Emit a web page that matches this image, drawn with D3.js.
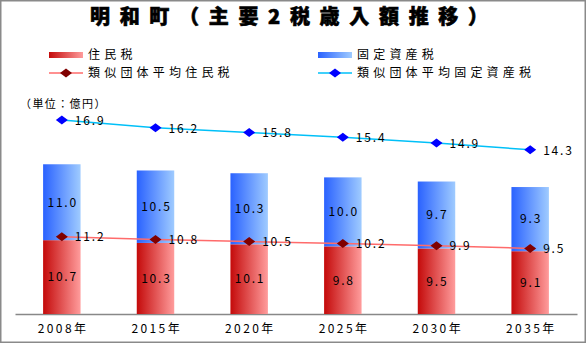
<!DOCTYPE html>
<html><head><meta charset="utf-8">
<script src="https://cdn.jsdelivr.net/npm/d3@7"></script>
<style>
html,body{margin:0;padding:0;background:#fff;}
svg{display:block;font-family:"Noto Sans CJK JP","Noto Sans",sans-serif;}
</style></head>
<body>
<script>
const years = ['2008年','2015年','2020年','2025年','2030年','2035年'];
const residentTax = [10.7,10.3,10.1,9.8,9.5,9.1];
const propertyTax = [11.0,10.5,10.3,10.0,9.7,9.3];
const avgResident = [11.2,10.8,10.5,10.2,9.9,9.5];
const avgProperty = [16.9,16.2,15.8,15.4,14.9,14.3];
const seriesNames = ['住民税','固定資産税','類似団体平均住民税','類似団体平均固定資産税'];
const titleText = '明和町（主要2税歳入額推移）';
const unitText = '（単位：億円）';

const W = 587, H = 344;
const svg = d3.select('body').append('svg').attr('width', W).attr('height', H);
const defs = svg.append('defs');
function grad(id, c0, c1){
  const g = defs.append('linearGradient').attr('id', id).attr('x1','0').attr('x2','1').attr('y1','0').attr('y2','0');
  g.append('stop').attr('offset','0').attr('stop-color', c0);
  g.append('stop').attr('offset','1').attr('stop-color', c1);
}
grad('gRed', '#c40a0a', '#ff9c9c');
grad('gBlue', '#2a62ff', '#9fcbff');

svg.append('rect').attr('x',0.75).attr('y',0.75).attr('width',584.5).attr('height',341.5)
  .attr('fill','#fff').attr('stroke','#8a8a8a').attr('stroke-width',1.5);

const x = d3.scaleBand().domain(years).range([15, 577]).paddingInner(0.6).paddingOuter(0.3);
const y = d3.scaleLinear().domain([0, 30]).range([314, 314 - 30*6.9]);

// title
svg.append('text').attr('x', 90).attr('y', 24)
  .attr('textLength', 398).attr('lengthAdjust','spacing')
  .attr('font-size', 20).attr('font-weight', 900).attr('fill','#000')
  .attr('stroke','#000').attr('stroke-width',0.6)
  .text(titleText);

// legend
const leg = svg.append('g').attr('font-size', 12).attr('fill','#000');
const legItems = [
  {x:49, y:55, type:'bar', fill:'url(#gRed)', name:seriesNames[0]},
  {x:318, y:55, type:'bar', fill:'url(#gBlue)', name:seriesNames[1]},
  {x:49, y:73, type:'line', stroke:'#ff6b6b', mk:'#800000', name:seriesNames[2]},
  {x:318, y:73, type:'line', stroke:'#00c0f8', mk:'#0000ff', name:seriesNames[3]}
];
const diamond = (cx, cy) => `M${cx-6},${cy}L${cx},${cy-4.5}L${cx+6},${cy}L${cx},${cy+4.5}Z`;
legItems.forEach(d => {
  if (d.type === 'bar') {
    leg.append('rect').attr('x', d.x).attr('y', d.y-3).attr('width', 34).attr('height', 6).attr('fill', d.fill);
  } else {
    leg.append('line').attr('x1', d.x).attr('x2', d.x+34).attr('y1', d.y).attr('y2', d.y).attr('stroke', d.stroke).attr('stroke-width',1.5);
    leg.append('path').attr('d', diamond(d.x+17, d.y)).attr('fill', d.mk);
  }
  leg.append('text').attr('x', d.x+39).attr('y', d.y).attr('dy','0.36em')
    .attr('letter-spacing', 4.2).text(d.name);
});

// unit
svg.append('text').attr('x', 20).attr('y', 104).attr('dy','0.36em').attr('font-size', 11)
  .attr('letter-spacing', 1.4).text(unitText);

// axis
const ax = svg.append('g').attr('transform', 'translate(0,314)')
  .call(d3.axisBottom(x).tickSize(0).tickPadding(10));
ax.select('.domain').attr('stroke', '#888').attr('stroke-width', 1.5);
ax.selectAll('text').attr('font-size', 12).attr('fill','#000').attr('letter-spacing', 2.4)
  .attr('font-family','"Noto Sans CJK JP",sans-serif').attr('dx', 1.2);

// bars
const bars = svg.append('g');
years.forEach((yr, i) => {
  const r = residentTax[i], p = propertyTax[i];
  bars.append('rect').attr('x', x(yr)).attr('width', x.bandwidth())
    .attr('y', y(r)).attr('height', y(0)-y(r)).attr('fill', 'url(#gRed)');
  bars.append('rect').attr('x', x(yr)).attr('width', x.bandwidth())
    .attr('y', y(r+p)).attr('height', y(r)-y(r+p)).attr('fill', 'url(#gBlue)');
});
const lab = svg.append('g').attr('font-size', 12).attr('fill','#000').attr('text-anchor','middle').attr('letter-spacing', 1.8);
years.forEach((yr, i) => {
  const r = residentTax[i], p = propertyTax[i];
  const cx = x(yr) + x.bandwidth()/2 + 0.9;
  lab.append('text').attr('x', cx).attr('y', y(r/2)).attr('dy','0.36em').text(r.toFixed(1));
  lab.append('text').attr('x', cx).attr('y', y(r + p/2)).attr('dy','0.36em').text(p.toFixed(1));
});

// lines (stacked)
const cxOf = yr => x(yr) + x.bandwidth()/2;
const redPts = years.map((yr,i) => [cxOf(yr), y(avgResident[i])]);
const bluePts = years.map((yr,i) => [cxOf(yr), y(avgResident[i] + avgProperty[i])]);
const lineGen = d3.line();
svg.append('path').attr('d', lineGen(redPts)).attr('fill','none').attr('stroke','#ff6b6b').attr('stroke-width',1.5);
svg.append('path').attr('d', lineGen(bluePts)).attr('fill','none').attr('stroke','#00c0f8').attr('stroke-width',1.5);
const mk = svg.append('g');
redPts.forEach(p => mk.append('path').attr('d', diamond(p[0], p[1])).attr('fill','#800000'));
bluePts.forEach(p => mk.append('path').attr('d', diamond(p[0], p[1])).attr('fill','#0000ff'));
const ll = svg.append('g').attr('font-size', 12).attr('fill','#000').attr('letter-spacing', 1.8);
years.forEach((yr,i) => {
  ll.append('text').attr('x', redPts[i][0] + 13).attr('y', redPts[i][1]).attr('dy','0.36em').text(avgResident[i].toFixed(1));
  ll.append('text').attr('x', bluePts[i][0] + 13).attr('y', bluePts[i][1] + 0.5).attr('dy','0.36em').text(avgProperty[i].toFixed(1));
});
</script>
</body></html>
